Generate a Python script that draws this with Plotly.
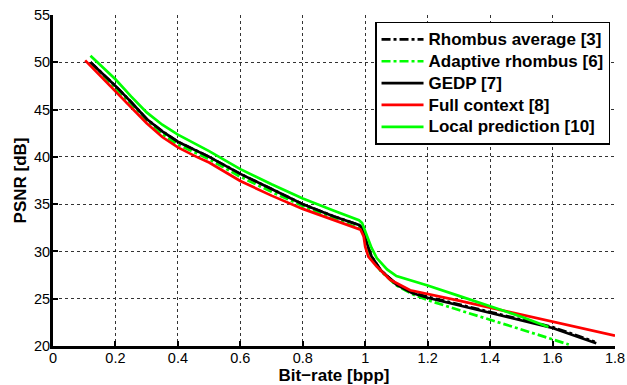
import plotly.graph_objects as go

# ---- data ----
rhombus_avg_x = [0.12, 0.2, 0.25, 0.3, 0.35, 0.4, 0.5, 0.6, 0.7, 0.8, 0.9, 0.98, 0.99, 1.0, 1.01, 1.02, 1.05, 1.1, 1.15, 1.2, 1.3, 1.4, 1.5, 1.6, 1.735]
rhombus_avg_y = [50.0, 47.5, 45.8, 44.0, 42.7, 41.6, 40.0, 38.2, 36.6, 35.0, 33.7, 32.8, 32.5, 31.4, 30.4, 29.5, 28.0, 26.55, 25.7, 25.2, 24.4, 23.6, 22.8, 22.0, 20.45]

adaptive_x = [0.12, 0.2, 0.25, 0.3, 0.35, 0.4, 0.5, 0.6, 0.7, 0.8, 0.9, 0.98, 0.99, 1.0, 1.02, 1.05, 1.1, 1.15, 1.2, 1.3, 1.4, 1.5, 1.6, 1.652]
adaptive_y = [49.9, 47.3, 45.6, 43.8, 42.4, 41.3, 39.75, 37.9, 36.3, 34.8, 33.5, 32.5, 32.3, 31.2, 29.3, 27.9, 26.4, 25.5, 24.85, 23.8, 22.8, 21.75, 20.7, 20.15]

gedp_x = [0.12, 0.2, 0.25, 0.3, 0.35, 0.4, 0.5, 0.6, 0.7, 0.8, 0.9, 0.98, 0.99, 1.0, 1.01, 1.02, 1.05, 1.1, 1.15, 1.2, 1.3, 1.4, 1.5, 1.6, 1.74]
gedp_y = [50.0, 47.5, 45.8, 44.0, 42.7, 41.6, 40.0, 38.2, 36.6, 35.0, 33.7, 32.8, 32.5, 31.4, 30.4, 29.5, 28.0, 26.5, 25.6, 25.1, 24.3, 23.5, 22.7, 21.9, 20.3]

full_x = [0.103, 0.2, 0.255, 0.3, 0.35, 0.4, 0.46, 0.5, 0.6, 0.7, 0.8, 0.9, 0.985, 0.995, 1.0, 1.01, 1.037, 1.08, 1.144, 1.3, 1.4, 1.6, 1.8]
full_y = [50.2, 46.9, 45.0, 43.55, 42.1, 41.0, 40.0, 39.4, 37.45, 35.9, 34.5, 33.3, 32.3, 31.6, 30.5, 29.45, 28.4, 27.0, 25.9, 24.8, 24.05, 22.6, 21.1]

local_x = [0.12, 0.2, 0.25, 0.3, 0.35, 0.4, 0.5, 0.6, 0.7, 0.8, 0.9, 0.98, 0.99, 1.005, 1.02, 1.037, 1.07, 1.1, 1.2, 1.3, 1.4, 1.5, 1.587]
local_y = [50.7, 48.2, 46.4, 44.7, 43.4, 42.35, 40.6, 38.7, 37.1, 35.6, 34.3, 33.3, 33.0, 31.8, 30.4, 29.3, 28.1, 27.4, 26.4, 25.3, 24.2, 23.1, 22.0]

x_ticks = [0, 0.2, 0.4, 0.6, 0.8, 1, 1.2, 1.4, 1.6, 1.8]
x_tick_labels = ["0", "0.2", "0.4", "0.6", "0.8", "1", "1.2", "1.4", "1.6", "1.8"]
y_ticks = [20, 25, 30, 35, 40, 45, 50, 55]
y_tick_labels = ["20", "25", "30", "35", "40", "45", "50", "55"]

series = [
    ("Rhombus average [3]", rhombus_avg_x, rhombus_avg_y, "#000000", "dashdot"),
    ("Adaptive rhombus [6]", adaptive_x, adaptive_y, "#00FF00", "dashdot"),
    ("GEDP [7]", gedp_x, gedp_y, "#000000", "solid"),
    ("Full context [8]", full_x, full_y, "#FF0000", "solid"),
    ("Local prediction [10]", local_x, local_y, "#00FF00", "solid"),
]

fig = go.Figure()
for name, xs, ys, color, dash in series:
    fig.add_trace(go.Scatter(
        x=xs, y=ys, mode="lines",
        name='<span style="font-size:17px">' + name + '</span>',
        line=dict(color=color, width=2.7, dash=dash),
    ))

font_family = "Liberation Sans, Arial, Helvetica, sans-serif"
bold_font = dict(family=font_family, size=17, color="black", weight="bold")

fig.update_layout(
    width=627, height=385,
    margin=dict(l=53, r=12, t=15, b=39),
    paper_bgcolor="white", plot_bgcolor="white",
    font=dict(family=font_family, size=15, color="black"),
    showlegend=True,
    legend=dict(
        x=0.573, y=0.979, xanchor="left", yanchor="top",
        bgcolor="white", bordercolor="black", borderwidth=1.5,
        font=dict(family=font_family, size=14.5, color="black", weight="bold"),
        tracegroupgap=0, itemwidth=42,
    ),
    xaxis=dict(
        range=[0, 1.8], tickvals=x_ticks, ticktext=x_tick_labels,
        showline=True, linecolor="black", linewidth=3,
        ticks="inside", ticklen=5, tickwidth=2, tickcolor="black",
        showgrid=True, gridcolor="#333333", gridwidth=1, griddash="dot",
        zeroline=False, mirror=False, automargin=False,
        title=dict(text="Bit\u2212rate [bpp]", standoff=3, font=bold_font),
        tickfont=dict(size=14.5),
    ),
    yaxis=dict(
        range=[20, 55], tickvals=y_ticks, ticktext=y_tick_labels,
        showline=True, linecolor="black", linewidth=3,
        ticks="inside", ticklen=5, tickwidth=2, tickcolor="black",
        showgrid=True, gridcolor="#333333", gridwidth=1, griddash="dot",
        zeroline=False, mirror=False, automargin=False,
        title=dict(text="PSNR [dB]", standoff=4, font=bold_font),
        tickfont=dict(size=14.5),
    ),
)

try:
    fig.update_xaxes(ticklabelstandoff=-3)
    fig.update_yaxes(ticklabelstandoff=-3)
except Exception:
    pass

fig.write_html(
    "out.html",
    config={"displayModeBar": False},
    post_script="document.body.style.margin='0';document.body.style.overflow='hidden';",
)
